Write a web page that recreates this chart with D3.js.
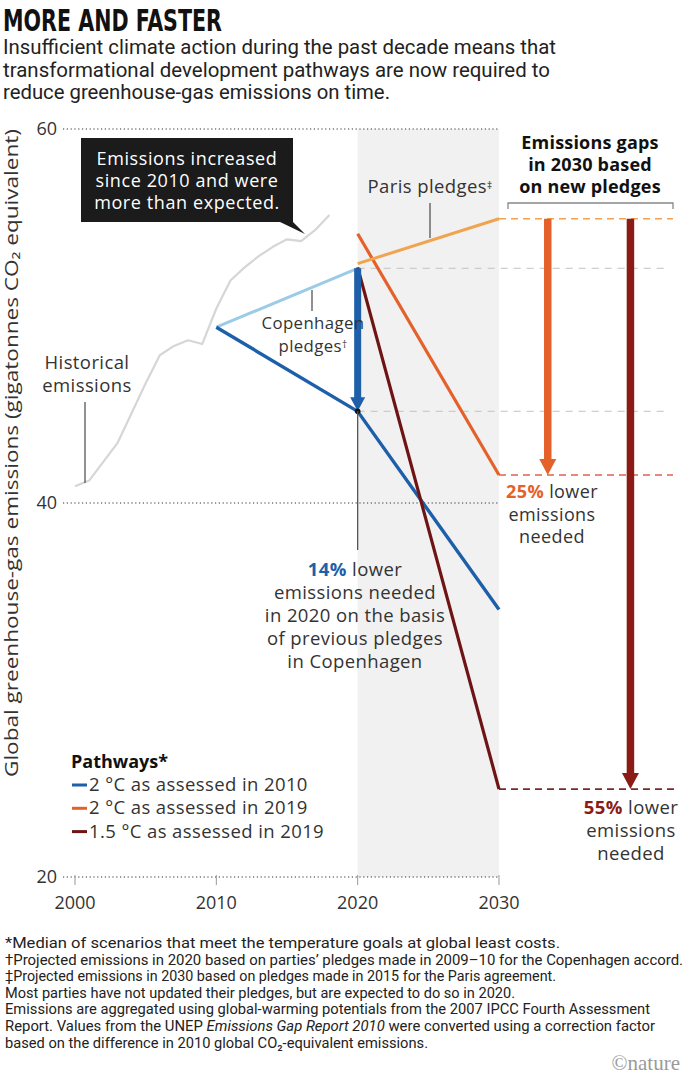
<!DOCTYPE html>
<html><head><meta charset="utf-8">
<script src="https://cdn.jsdelivr.net/npm/d3@7"></script>
<style>
body{margin:0;background:#fff;}
svg{display:block;}
text{font-family:"Open Sans",sans-serif;fill:#222;}
</style></head><body>
<svg id="c" width="685" height="1076"></svg>
<script>
// ---- data ----
const histYears = [2000,2001,2002,2003,2004,2005,2006,2007,2008,2009,2010,2011,2012,2013,2014,2015,2016,2017,2018];
const histValues = [40.9,41.2,42.2,43.2,44.8,46.4,47.9,48.4,48.7,48.5,50.4,51.9,52.6,53.2,53.7,54.1,54.0,54.6,55.4];
const copenhagenYears = [2010,2020];
const copenhagenValues = [49.4,52.55];
const parisYears = [2020,2030];
const parisValues = [52.8,55.2];
const path2C2010Years = [2010,2020,2030];
const path2C2010Values = [49.4,44.9,34.3];
const path2C2019Years = [2020,2030];
const path2C2019Values = [54.4,41.5];
const path15C2019Years = [2020,2030];
const path15C2019Values = [52.6,24.7];
const yTicks = [20,40,60];
const xTicks = [2000,2010,2020,2030];
const gapLabels = ["14%","25%","55%"];
const legendLabels = ["2 °C as assessed in 2010","2 °C as assessed in 2019","1.5 °C as assessed in 2019"];

const C = {blue:"#1d5fa9", light:"#9ccbe6", orange:"#e4612a", paris:"#f0a44f", dark:"#6f1414", darkArrow:"#8a1b15"};

const svg = d3.select("#c");
const x = d3.scaleLinear().domain([2000,2030]).range([75,499]);
const y = d3.scaleLinear().domain([20,60]).range([877,129]);
const line = d3.line().x(d=>x(d[0])).y(d=>y(d[1]));
const zip = (a,b)=>a.map((v,i)=>[v,b[i]]);
const LS = "0.4px";

// title
svg.append("text").attr("x",3).attr("y",31).attr("textLength",219).attr("lengthAdjust","spacingAndGlyphs")
  .style("font-family","'Liberation Sans Narrow','DejaVu Sans Condensed',sans-serif").style("font-weight","bold")
  .style("font-size","31px").style("fill","#111").text("MORE AND FASTER");
const sub = ["Insufficient climate action during the past decade means that",
  "transformational development pathways are now required to",
  "reduce greenhouse-gas emissions on time."];
const subW = [553,547,387];
sub.forEach((s,i)=>svg.append("text").attr("x",3).attr("y",54+i*22.5).attr("textLength",subW[i]).attr("lengthAdjust","spacingAndGlyphs")
  .style("font-family","'Liberation Sans Narrow','Roboto',sans-serif").style("font-size","19.5px").style("fill","#222").text(s));

// shaded band
svg.append("rect").attr("x",x(2020)).attr("y",y(60)).attr("width",x(2030)-x(2020)).attr("height",y(20)-y(60)).attr("fill","#f1f1f1");

// grid
yTicks.forEach(t=>{
  svg.append("line").attr("x1",63).attr("x2",500).attr("y1",y(t)).attr("y2",y(t))
    .attr("stroke","#333").attr("stroke-width",1.2).attr("stroke-dasharray","1.2,2.6");
  svg.append("text").attr("x",57).attr("y",y(t)+6).attr("text-anchor","end").style("font-size","18px").style("fill","#333").text(t);
});
xTicks.forEach(t=>{
  svg.append("line").attr("x1",x(t)).attr("x2",x(t)).attr("y1",y(20)-2).attr("y2",y(20)+8).attr("stroke","#999").attr("stroke-width",1);
  svg.append("text").attr("x",x(t)).attr("y",909).attr("text-anchor","middle").style("font-size","18px").style("fill","#333").text(t);
});

// y axis label
svg.append("text").attr("transform","translate(18,453) rotate(-90)").attr("text-anchor","middle")
  .attr("textLength",648).attr("lengthAdjust","spacingAndGlyphs")
  .style("font-size","18px").style("fill","#333")
  .text("Global greenhouse-gas emissions (gigatonnes CO₂ equivalent)");

// reference dashed lines
const dash = (x1,x2,v,col,w,da,op)=>svg.append("line").attr("x1",x1).attr("x2",x2).attr("y1",y(v)).attr("y2",y(v))
  .attr("stroke",col).attr("stroke-width",w).attr("stroke-dasharray",da).attr("opacity",op);
dash(x(2020),665,copenhagenValues[1],"#c4c4c4",1.3,"7,6",0.8);
dash(x(2020),665,path2C2010Values[1],"#c4c4c4",1.3,"7,6",0.8);
dash(x(2030),673,parisValues[1],C.paris,1.6,"7,5",1);
dash(x(2030),673,path2C2019Values[1],"#d9664a",1.6,"7,5",1);
dash(x(2030),675,path15C2019Values[1],"#7a2a2a",1.6,"7,5",1);

// historical
svg.append("path").datum(zip(histYears,histValues)).attr("d",line).attr("fill","none").attr("stroke","#d6d6d6").attr("stroke-width",2.2).attr("stroke-linejoin","round");

// pathway lines
const drawLine=(xs,vs,col,w)=>svg.append("path").datum(zip(xs,vs)).attr("d",line).attr("fill","none").attr("stroke",col).attr("stroke-width",w).attr("stroke-linejoin","round");
drawLine(copenhagenYears,copenhagenValues,C.light,3);
drawLine(path2C2010Years,path2C2010Values,C.blue,3.4);
drawLine(path2C2019Years,path2C2019Values,C.orange,3.2);
drawLine(parisYears,parisValues,C.paris,3);
drawLine(path15C2019Years,path15C2019Values,C.dark,3.2);

// arrows
function arrow(ax,v1,v2,col,w,hw,hh){
  const y1=y(v1), y2=y(v2);
  svg.append("line").attr("x1",ax).attr("x2",ax).attr("y1",y1).attr("y2",y2-hh+1).attr("stroke",col).attr("stroke-width",w);
  svg.append("path").attr("d",`M${ax-hw/2},${y2-hh} L${ax+hw/2},${y2-hh} L${ax},${y2} Z`).attr("fill",col);
}
arrow(x(2020),copenhagenValues[1],path2C2010Values[1],C.blue,7,15,14);
arrow(x(2033.45),parisValues[1],path2C2019Values[1],C.orange,7.5,17,16);
arrow(x(2039.3),parisValues[1],path15C2019Values[1],C.darkArrow,7.5,17,16);
svg.append("circle").attr("cx",x(2020)).attr("cy",y(path2C2010Values[1])).attr("r",2.8).attr("fill","#111");

// leader lines
const lead=(x1,y1,x2,y2)=>svg.append("line").attr("x1",x1).attr("y1",y1).attr("x2",x2).attr("y2",y2).attr("stroke","#555").attr("stroke-width",1.3);
lead(85,402,85,483);
lead(312,290,312,311);
lead(430,203,430,238);
lead(x(2020),y(path2C2010Values[1]),x(2020),550);
svg.append("path").attr("d","M508,209V203H673V209").attr("fill","none").attr("stroke","#888").attr("stroke-width",1.3);

// callout
svg.append("rect").attr("x",81).attr("y",138).attr("width",212).attr("height",84).attr("fill","#1b1b1b");
svg.append("path").attr("d","M278,221 L292,221 L305,234 Z").attr("fill","#1b1b1b");
["Emissions increased","since 2010 and were","more than expected."].forEach((s,i)=>
  svg.append("text").attr("x",187).attr("y",165+i*22).attr("text-anchor","middle").style("font-size","18px").style("letter-spacing","0.6px").style("fill","#fff").text(s));

// labels
function block(lines,cx,y0,lh,fs){
  lines.forEach((ln,i)=>{
    const t=svg.append("text").attr("x",cx).attr("y",y0+i*lh).attr("text-anchor","middle").style("font-size",(fs||18.5)+"px").style("letter-spacing",LS).style("fill","#333");
    ln.forEach(p=>{const ts=t.append("tspan").text(p.t); if(p.c) ts.style("fill",p.c).style("font-weight","bold"); if(p.sup) ts.attr("dy",-4).style("font-size","10px");});
  });
}
block([[{t:"Historical"}],[{t:"emissions"}]],87,369,23);
block([[{t:"Copenhagen"}],[{t:"pledges"},{t:"†",sup:1}]],313,329,22.5,16.8);
block([[{t:"Paris pledges"},{t:"‡",sup:1}]],430,193,22);
block([[{t:gapLabels[0],c:C.blue},{t:" lower"}],[{t:"emissions needed"}],[{t:"in 2020 on the basis"}],[{t:"of previous pledges"}],[{t:"in Copenhagen"}]],355,576,23);
block([[{t:gapLabels[1],c:C.orange},{t:" lower"}],[{t:"emissions"}],[{t:"needed"}]],552,498,22.5,18);
block([[{t:gapLabels[2],c:C.darkArrow},{t:" lower"}],[{t:"emissions"}],[{t:"needed"}]],631,814,23);
["Emissions gaps","in 2030 based","on new pledges"].forEach((s,i)=>
  svg.append("text").attr("x",590).attr("y",149+i*22).attr("text-anchor","middle").style("font-size","18px").style("font-weight","bold").style("letter-spacing","0.2px").style("fill","#111").text(s));

// legend
svg.append("text").attr("x",71).attr("y",768).style("font-size","18px").style("font-weight","bold").style("fill","#111").text("Pathways*");
const legCols=[C.blue,C.orange,C.dark];
legendLabels.forEach((s,i)=>{
  const yy=785+i*23.3;
  svg.append("line").attr("x1",72).attr("x2",87).attr("y1",yy).attr("y2",yy).attr("stroke",legCols[i]).attr("stroke-width",3);
  svg.append("text").attr("x",89).attr("y",yy+6).style("font-size","18.5px").style("letter-spacing",LS).style("fill","#333").text(s);
});

// footnotes
const notes=[
 [{t:"*Median of scenarios that meet the temperature goals at global least costs."}],
 [{t:"†Projected emissions in 2020 based on parties’ pledges made in 2009–10 for the Copenhagen accord."}],
 [{t:"‡Projected emissions in 2030 based on pledges made in 2015 for the Paris agreement."}],
 [{t:"Most parties have not updated their pledges, but are expected to do so in 2020."}],
 [{t:"Emissions are aggregated using global-warming potentials from the 2007 IPCC Fourth Assessment"}],
 [{t:"Report. Values from the UNEP "},{t:"Emissions Gap Report 2010",it:1},{t:" were converted using a correction factor"}],
 [{t:"based on the difference in 2010 global CO₂-equivalent emissions."}]];
const noteW=[555,678,551,510,645,650,423];
notes.forEach((ln,i)=>{
  const t=svg.append("text").attr("x",5).attr("y",948+i*16.6).attr("textLength",noteW[i]).attr("lengthAdjust","spacingAndGlyphs")
   .style("font-family","'Liberation Sans Narrow','Roboto',sans-serif").style("font-size","14.5px").style("fill","#222");
  ln.forEach(p=>{const ts=t.append("tspan").text(p.t); if(p.it) ts.style("font-style","italic");});
});
svg.append("text").attr("x",680).attr("y",1070).attr("text-anchor","end").style("font-family","'Liberation Serif',serif").style("font-size","21px").style("fill","#9a9a9a").text("©nature");
</script>
</body></html>
